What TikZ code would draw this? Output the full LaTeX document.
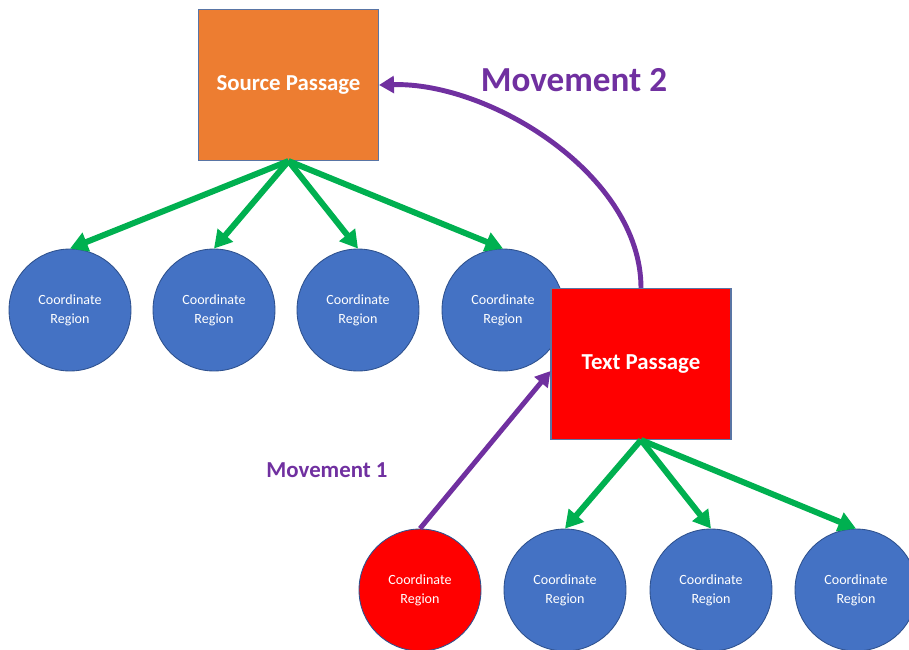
\documentclass[tikz,border=0pt]{standalone}
\usepackage{fontspec}
\setmainfont{Carlito}
\usepackage{xcolor}
\usetikzlibrary{positioning,arrows.meta}

\definecolor{srcorange}{HTML}{ED7D31}
\definecolor{regblue}{HTML}{4472C4}
\definecolor{edgeblue}{HTML}{2F528F}
\definecolor{linkgreen}{HTML}{00B050}
\definecolor{movepurple}{HTML}{7030A0}

\begin{document}
\begin{tikzpicture}[
    x=0.02cm, y=-0.02cm,
    passage/.style={
        draw=edgeblue!80, line width=0.6pt,
        minimum width=3.6cm, minimum height=3.02cm,
        font=\fontsize{13}{15}\selectfont\bfseries,
        text=white, inner sep=0pt
    },
    region/.style={
        circle, draw=edgeblue, line width=0.5pt,
        fill=regblue,
        minimum size=2.44cm, inner sep=0pt,
        font=\fontsize{8}{10.8}\selectfont,
        text=white, align=center
    },
    movelabel/.style={
        font=\bfseries, text=movepurple
    },
    link/.style={
        draw=linkgreen, line width=3.4pt,
        -{Triangle[length=10pt,width=11pt]}
    },
    move/.style={
        draw=movepurple, line width=2.8pt,
        -{Triangle[length=8.5pt,width=9.5pt]}
    }
]
\useasboundingbox (0,0) rectangle (909,649);
\clip (0,0) rectangle (909,649);

% source passage and its regions
\node[passage, fill=srcorange] (src) at (288.5, 85) {Source Passage};
\node[region] (r1) at (70, 310) {Coordinate\\Region};
\node[region] (r2) at (214, 310) {Coordinate\\Region};
\node[region] (r3) at (358, 310) {Coordinate\\Region};
\node[region] (r4) at (503, 310) {Coordinate\\Region};

% text passage (over r4) and its regions
\node[passage, fill=red] (txt) at (641, 364) {Text Passage};
\node[region, fill=red] (s1) at (420, 590) {Coordinate\\Region};
\node[region] (s2) at (565, 590) {Coordinate\\Region};
\node[region] (s3) at (711, 590) {Coordinate\\Region};
\node[region] (s4) at (856, 590) {Coordinate\\Region};

\draw[link] (src.south) -- (r1.north);
\draw[link] (src.south) -- (r2.north);
\draw[link] (src.south) -- (r3.north);
\draw[link] (src.south) -- (r4.north);

\draw[link] (txt.south) -- (s2.north);
\draw[link] (txt.south) -- (s3.north);
\draw[link] (txt.south) -- (s4.north);

\draw[move] (s1.north) -- ([yshift=-4]txt.west);
\draw[move] (txt.north) .. controls (641, 175) and (490, 82) .. (src.east);

\node[movelabel, font=\fontsize{13}{15}\selectfont\bfseries] (m1) at (327, 470) {Movement 1};
\node[movelabel, font=\fontsize{20}{24}\selectfont\bfseries] (m2) at (574, 80) {Movement 2};

\end{tikzpicture}
\end{document}
